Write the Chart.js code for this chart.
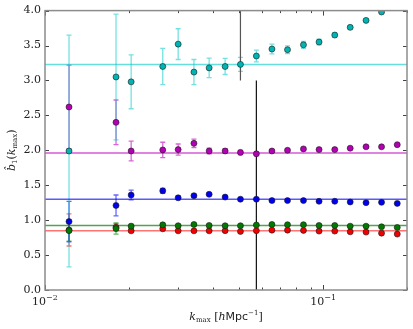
<!DOCTYPE html>
<html>
<head>
<meta charset="utf-8">
<script src="https://cdn.jsdelivr.net/npm/chart.js@4.4.1/dist/chart.umd.min.js"></script>
<style>
  html, body { margin: 0; padding: 0; background: #fff; }
  #wrap { width: 413px; height: 329px; }
</style>
</head>
<body>
<div id="wrap"><canvas id="bias"></canvas></div>
<script>
// --- data ---
const kmax = [0.0122, 0.0180, 0.0204, 0.0265, 0.0301, 0.0343, 0.0389, 0.0444, 0.0504, 0.0575,
	0.0654, 0.0744, 0.0849, 0.0966, 0.110, 0.125, 0.1425, 0.162, 0.1845];

const cyanB = [1.99, 3.05, 2.98, 3.20, 3.52, 3.12, 3.18, 3.20, 3.23, 3.35, 3.45, 3.44, 3.51, 3.55, 3.65, 3.76, 3.86, 3.98, 4.10];
const cyanErr = [1.66, 0.90, 0.385, 0.26, 0.22, 0.18, 0.14, 0.115, 0.10, 0.085, 0.07, 0.055, 0.05, 0.04, 0.03, 0.02, 0.015, 0.01, 0.01];

const magentaB = [2.62, 2.40, 1.99, 2.005, 2.01, 2.10, 1.99, 1.99, 1.97, 1.95, 1.99, 2.00, 2.02, 2.01, 2.01, 2.03, 2.05, 2.05, 2.08];
const magentaErr = [0.60, 0.32, 0.14, 0.11, 0.08, 0.06, 0.04, 0.035, 0.03, 0.025, 0.02, 0.02, 0.015, 0.01, 0.01, 0.01, 0.01, 0.01, 0.01];

const blueB = [0.98, 1.21, 1.36, 1.42, 1.32, 1.35, 1.37, 1.33, 1.30, 1.30, 1.28, 1.28, 1.28, 1.27, 1.27, 1.26, 1.25, 1.255, 1.24];
const blueErr = [0.29, 0.15, 0.07, 0.035, 0.025, 0.02, 0.015, 0.01, 0.01, 0.01, 0.01, 0.01, 0.01, 0.01, 0.01, 0.01, 0.01, 0.01, 0.01];

const greenB = [0.85, 0.88, 0.914, 0.933, 0.92, 0.938, 0.924, 0.92, 0.92, 0.93, 0.938, 0.935, 0.935, 0.924, 0.924, 0.914, 0.914, 0.905, 0.895];
const greenErr = [0.15, 0.08, 0.03, 0.02, 0.015, 0.01, 0.01, 0.01, 0.01, 0.01, 0.01, 0.01, 0.01, 0.01, 0.01, 0.01, 0.01, 0.01, 0.01];

const redB = [0.86, 0.90, 0.847, 0.876, 0.847, 0.847, 0.847, 0.85, 0.838, 0.85, 0.857, 0.857, 0.853, 0.843, 0.843, 0.833, 0.829, 0.814, 0.80];
const redErr = [0.23, 0.05, 0.02, 0.015, 0.01, 0.01, 0.01, 0.01, 0.01, 0.01, 0.01, 0.01, 0.01, 0.01, 0.01, 0.01, 0.01, 0.01, 0.01];

// fitted constant bias per tracer (horizontal lines)
const fitB = [3.23, 1.96, 1.30, 0.925, 0.85];

// vertical markers: [k, yFrom, yTo]
const markers = [[0.0504, 3.0, 4.0], [0.0575, 0.0, 3.0]];

const xRange = [0.01, 0.2];
const yTicks = [0, 0.5, 1, 1.5, 2, 2.5, 3, 3.5, 4];
const xMajor = [0.01, 0.1];
const xMinor = [0.02, 0.03, 0.04, 0.05, 0.06, 0.07, 0.08, 0.09, 0.2];

const series = [
	{ y: cyanB, err: cyanErr, fill: '#00b4b4', bar: 'rgba(0,200,200,0.55)', line: 'rgba(0,200,200,0.6)' },
	{ y: magentaB, err: magentaErr, fill: '#b400b4', bar: 'rgba(191,0,191,0.6)', line: 'rgba(191,0,191,0.65)' },
	{ y: blueB, err: blueErr, fill: '#0000f0', bar: 'rgba(0,0,255,0.6)', line: 'rgba(0,0,255,0.65)' },
	{ y: greenB, err: greenErr, fill: '#007a00', bar: 'rgba(0,128,0,0.6)', line: 'rgba(0,128,0,0.7)' },
	{ y: redB, err: redErr, fill: '#f00000', bar: 'rgba(255,0,0,0.55)', line: 'rgba(255,0,0,0.55)' }
];

const SERIF = '"DejaVu Serif", "Liberation Serif", serif';

// --- datasets ---
const datasets = [];
series.forEach((s, i) => {
	datasets.push({
		type: 'scatter',
		data: kmax.map((k, j) => ({ x: k, y: s.y[j] })),
		backgroundColor: s.fill,
		borderColor: '#1a1a1a',
		borderWidth: 0.6,
		pointRadius: 3,
		order: 1
	});
	datasets.push({
		type: 'line',
		data: [{ x: xRange[0], y: fitB[i] }, { x: xRange[1], y: fitB[i] }],
		borderColor: s.line,
		borderWidth: 1.5,
		pointRadius: 0,
		order: 3
	});
});
markers.forEach((m, i) => {
	datasets.push({
		type: 'line',
		data: [{ x: m[0], y: m[1] }, { x: m[0], y: m[2] }],
		borderColor: i === 0 ? '#555' : '#111',
		borderWidth: 1.2,
		pointRadius: 0,
		order: 2
	});
});

// error bars, drawn beneath the markers (cyan last, so it sits on top)
const errorBars = {
	id: 'errorBars',
	beforeDatasetsDraw(chart) {
		const { ctx, chartArea: a, scales: { x, y } } = chart;
		ctx.save();
		ctx.beginPath();
		ctx.rect(a.left, a.top, a.right - a.left, a.bottom - a.top);
		ctx.clip();
		series.slice().reverse().forEach((s) => {
			ctx.strokeStyle = s.bar;
			ctx.lineWidth = 1.3;
			kmax.forEach((k, j) => {
				const px = x.getPixelForValue(k);
				const top = y.getPixelForValue(s.y[j] + s.err[j]);
				const bot = y.getPixelForValue(s.y[j] - s.err[j]);
				ctx.beginPath();
				ctx.moveTo(px, top); ctx.lineTo(px, bot);
				ctx.moveTo(px - 2.5, top); ctx.lineTo(px + 2.5, top);
				ctx.moveTo(px - 2.5, bot); ctx.lineTo(px + 2.5, bot);
				ctx.stroke();
			});
		});
		ctx.restore();
	}
};

// frame, inward ticks, x labels with exponents, axis titles
function drawPieces(ctx, pieces, x, y, align) {
	let total = 0;
	pieces.forEach((p) => { ctx.font = p.font; total += ctx.measureText(p.t).width; });
	let cx = align === 'center' ? x - total / 2 : x;
	pieces.forEach((p) => {
		ctx.font = p.font;
		ctx.fillText(p.t, cx, y + (p.dy || 0));
		cx += ctx.measureText(p.t).width;
	});
}

const frame = {
	id: 'frame',
	afterDraw(chart) {
		const { ctx, chartArea: a, scales: { x, y } } = chart;
		ctx.save();
		ctx.strokeStyle = '#444';
		ctx.lineWidth = 1;
		ctx.beginPath();
		yTicks.forEach((v) => {
			const py = Math.round(y.getPixelForValue(v)) + 0.5;
			ctx.moveTo(a.left, py); ctx.lineTo(a.left + 4, py);
			ctx.moveTo(a.right, py); ctx.lineTo(a.right - 4, py);
		});
		xMajor.forEach((v) => {
			const px = Math.round(x.getPixelForValue(v)) + 0.5;
			ctx.moveTo(px, a.bottom); ctx.lineTo(px, a.bottom - 5);
			ctx.moveTo(px, a.top); ctx.lineTo(px, a.top + 5);
		});
		xMinor.forEach((v) => {
			const px = Math.round(x.getPixelForValue(v)) + 0.5;
			ctx.moveTo(px, a.bottom); ctx.lineTo(px, a.bottom - 2.5);
			ctx.moveTo(px, a.top); ctx.lineTo(px, a.top + 2.5);
		});
		ctx.stroke();

		ctx.strokeStyle = '#8c8c8c';
		ctx.lineWidth = 1.5;
		ctx.strokeRect(a.left, a.top, a.right - a.left, a.bottom - a.top);

		ctx.fillStyle = '#222';
		ctx.textBaseline = 'alphabetic';
		ctx.textAlign = 'left';
		xMajor.forEach((v) => {
			const px = x.getPixelForValue(v);
			const exp = Math.round(Math.log10(v));
			drawPieces(ctx, [
				{ t: '10', font: '11px ' + SERIF },
				{ t: '\u2212' + Math.abs(exp), font: '8px ' + SERIF, dy: -5 }
			], px, a.bottom + 15, 'center');
		});

		// x title
		drawPieces(ctx, [
			{ t: 'k', font: 'italic 11px ' + SERIF },
			{ t: 'max', font: '7px ' + SERIF, dy: 2 },
			{ t: ' [', font: '11px ' + SERIF },
			{ t: 'h', font: 'italic 11px ' + SERIF },
			{ t: 'Mpc', font: '11px "DejaVu Sans", sans-serif' },
			{ t: '\u22121', font: '7px ' + SERIF, dy: -5 },
			{ t: ']', font: '11px ' + SERIF }
		], (a.left + a.right) / 2, a.bottom + 30, 'center');

		// y title
		ctx.translate(15, (a.top + a.bottom) / 2);
		ctx.rotate(-Math.PI / 2);
		drawPieces(ctx, [
			{ t: 'b\u0302', font: 'italic 11px ' + SERIF },
			{ t: '1', font: '7px ' + SERIF, dy: 2 },
			{ t: '(', font: '11px ' + SERIF },
			{ t: 'k', font: 'italic 11px ' + SERIF },
			{ t: 'max', font: '7px ' + SERIF, dy: 2 },
			{ t: ')', font: '11px ' + SERIF }
		], 0, 0, 'center');
		ctx.restore();
	}
};

new Chart(document.getElementById('bias'), {
	type: 'scatter',
	data: { datasets: datasets },
	options: {
		responsive: true,
		maintainAspectRatio: false,
		animation: false,
		layout: { padding: { top: 10, right: 6, left: 0, bottom: 0 } },
		plugins: { legend: { display: false }, tooltip: { enabled: false } },
		scales: {
			x: {
				type: 'logarithmic',
				min: xRange[0],
				max: xRange[1],
				grid: { display: false, drawTicks: false },
				border: { display: false },
				ticks: { display: false },
				afterFit: (s) => { s.height = 39; }
			},
			y: {
				min: 0,
				max: 4,
				grid: { display: false, drawTicks: false },
				border: { display: false },
				ticks: {
					stepSize: 0.5,
					padding: 4,
					color: '#222',
					font: { family: SERIF, size: 11 },
					callback: (v) => Number(v).toFixed(1)
				},
				afterFit: (s) => { s.width = 45; }
			}
		}
	},
	plugins: [errorBars, frame]
});
</script>
</body>
</html>
